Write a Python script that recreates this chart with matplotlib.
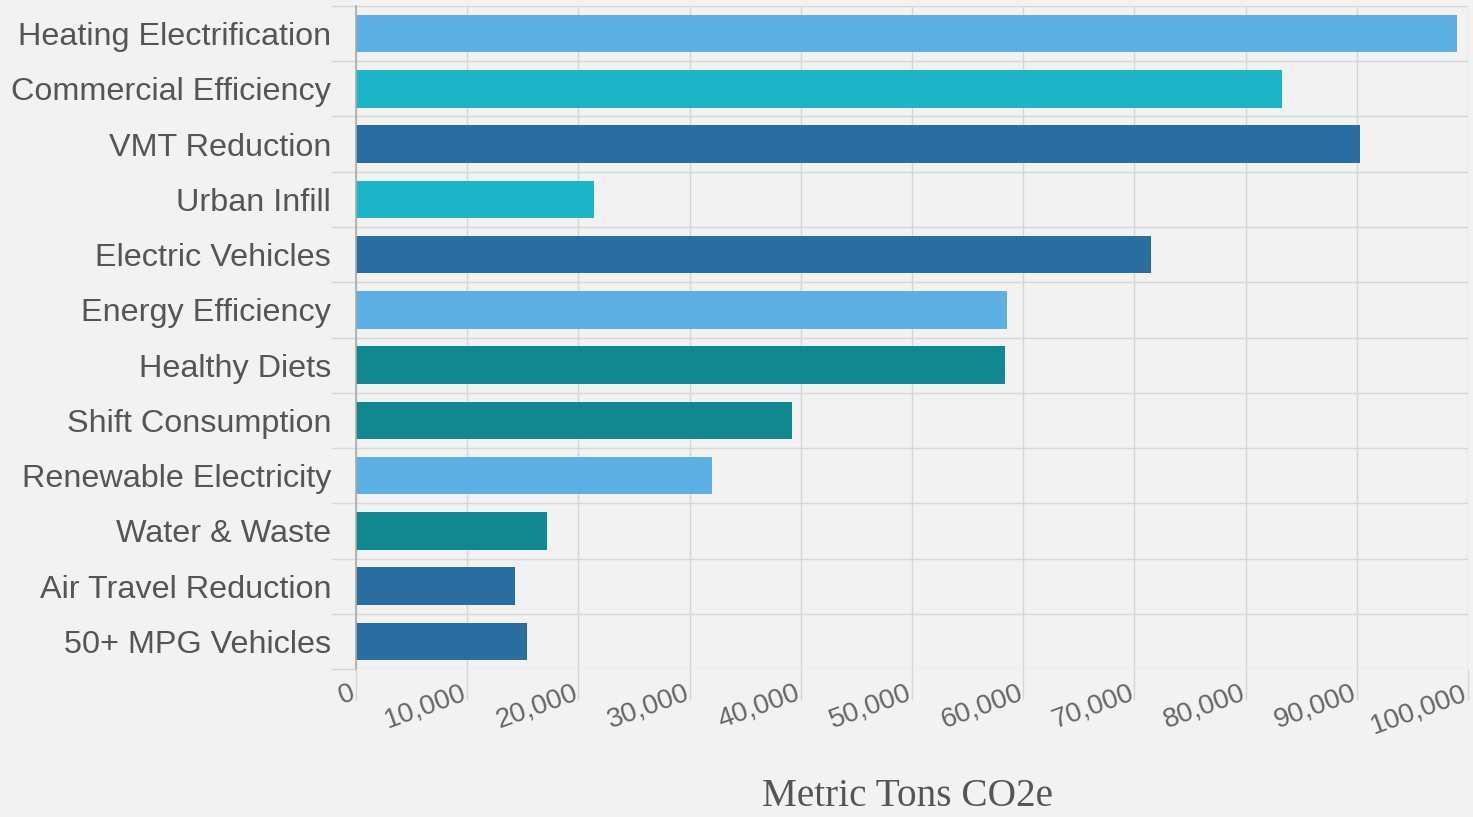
import matplotlib
matplotlib.use("Agg")
import matplotlib.pyplot as plt
import matplotlib.transforms as mtransforms
from matplotlib.ticker import FuncFormatter
import numpy as np

categories = ["Heating Electrification", "Commercial Efficiency", "VMT Reduction",
              "Urban Infill", "Electric Vehicles", "Energy Efficiency", "Healthy Diets",
              "Shift Consumption", "Renewable Electricity", "Water & Waste",
              "Air Travel Reduction", "50+ MPG Vehicles"]
values = [99000, 83300, 90300, 21400, 71500, 58500, 58400, 39200, 32000, 17200, 14300, 15400]
LIGHT, TEAL, DARK, DTEAL = "#5DAFE4", "#1CB5C8", "#2A6EA1", "#13878F"
colors = [LIGHT, TEAL, DARK, TEAL, DARK, LIGHT, DTEAL, DTEAL, LIGHT, DTEAL, DARK, DARK]
xticks = list(range(0, 100001, 10000))
xlabel = "Metric Tons CO2e"

bg = "#F2F2F2"
grid = "#D6D6D6"
fig = plt.figure(figsize=(14.73, 8.17), dpi=100, facecolor=bg)
ax = fig.add_axes([0.2417, 0.1811, 0.7549, 0.8116], facecolor=bg)

y = np.arange(len(categories))
ax.barh(y, values, height=0.68, color=colors, zorder=3)
ax.set_ylim(len(categories) - 0.5, -0.5)
ax.set_xlim(0, 100000)

ax.set_yticks(y)
ax.set_yticklabels(categories, fontfamily="Liberation Sans", fontsize=23.3, color="#555555")
ax.tick_params(axis="y", which="major", length=0, pad=18)
ax.set_yticks(np.arange(-0.5, len(categories), 1), minor=True)
ax.tick_params(axis="y", which="minor", length=18, color=grid, width=1)
ax.grid(axis="y", which="minor", color=grid, linewidth=1, zorder=1)

ax.set_xticks(xticks)
ax.xaxis.set_major_formatter(FuncFormatter(lambda v, p: f"{int(v):,}"))
ax.tick_params(axis="x", which="major", length=22, color=grid, width=1, pad=-14)
offset = mtransforms.ScaledTranslation(-6 / 100, 0, fig.dpi_scale_trans)
for lab in ax.get_xticklabels():
    lab.set_rotation(20)
    lab.set_ha("right")
    lab.set_va("top")
    lab.set_rotation_mode("anchor")
    lab.set_fontfamily("Liberation Sans")
    lab.set_fontsize(20)
    lab.set_color("#666666")
    lab.set_transform(lab.get_transform() + offset)
ax.grid(axis="x", which="major", color=grid, linewidth=1, zorder=1)

for s in ["top", "right", "bottom"]:
    ax.spines[s].set_visible(False)
ax.spines["left"].set_color("#AAAAAA")
ax.spines["left"].set_linewidth(1.2)
ax.spines["left"].set_zorder(4)

fig.text(0.616, 0.003, xlabel, ha="center", va="bottom", fontfamily="Liberation Serif",
         fontsize=28.3, color="#555555")

fig.savefig("out.png", dpi=100, facecolor=bg)
